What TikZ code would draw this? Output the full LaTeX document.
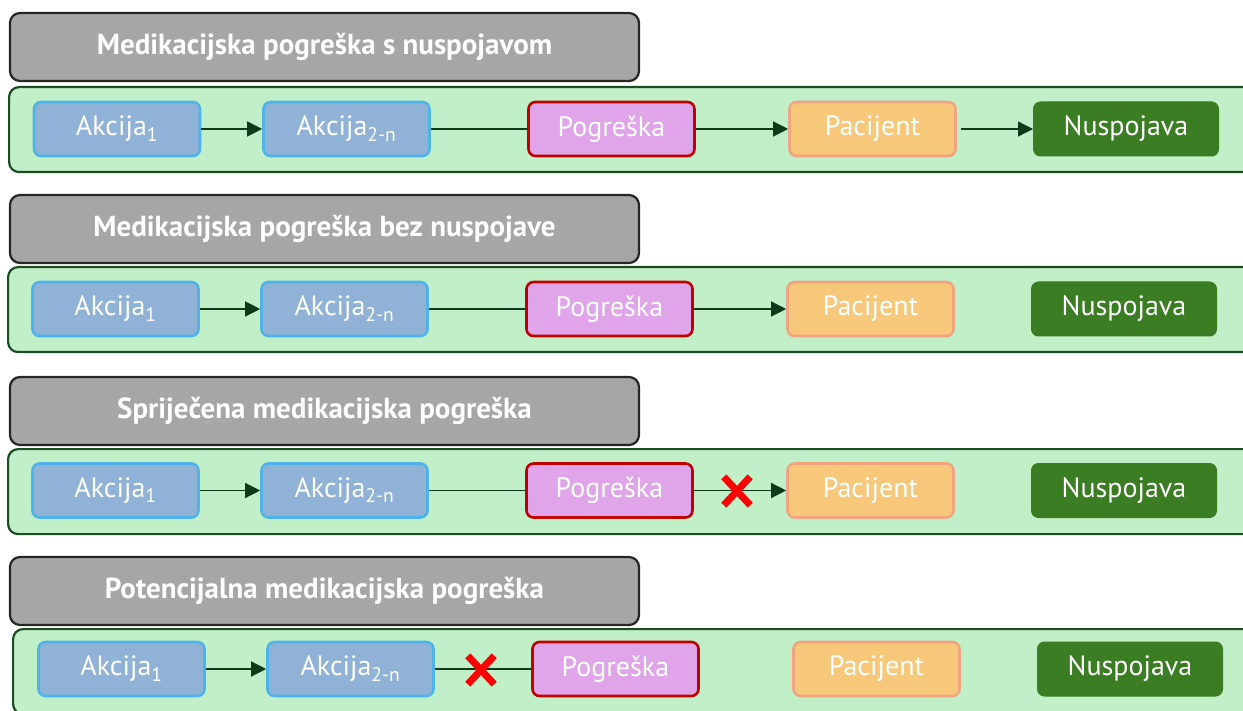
\documentclass[tikz,border=0pt]{standalone}
\usepackage{fontspec}
\setmainfont{PT Sans}
\usetikzlibrary{arrows.meta}
\definecolor{titlegray}{HTML}{A6A6A6}
\definecolor{titleedge}{HTML}{262626}
\definecolor{panelfill}{HTML}{C1F0C8}
\definecolor{paneledge}{HTML}{1B4D23}
\definecolor{akfill}{HTML}{8FB2D6}
\definecolor{akedge}{HTML}{4EB3E8}
\definecolor{pgfill}{HTML}{E0A5E9}
\definecolor{pgedge}{HTML}{C00000}
\definecolor{pcfill}{HTML}{F8C87A}
\definecolor{pcedge}{HTML}{F2A382}
\definecolor{nsfill}{HTML}{3B7D23}
\definecolor{arrcol}{HTML}{0E3A17}
\definecolor{xred}{HTML}{FF0000}
\begin{document}
\begin{tikzpicture}[x=1pt,y=-1pt,
  titlebox/.style={draw=titleedge,line width=2.2pt,fill=titlegray,rounded corners=10pt,
    minimum width=629pt,minimum height=68pt,inner sep=0pt,text=white,
    font=\fontsize{29}{33}\selectfont\bfseries},
  panel/.style={draw=paneledge,line width=2.2pt,fill=panelfill,rounded corners=10pt,
    minimum height=85pt,inner sep=0pt},
  stepbase/.style={rounded corners=7pt,minimum height=54pt,inner sep=0pt,text=white,
    font=\fontsize{28}{32}\selectfont},
  akc/.style={stepbase,draw=akedge,fill=akfill,line width=2.6pt,minimum width=166pt},
  pog/.style={stepbase,draw=pgedge,fill=pgfill,line width=2.6pt,minimum width=166pt},
  pac/.style={stepbase,draw=pcedge,fill=pcfill,line width=2.6pt,minimum width=166pt},
  nus/.style={stepbase,draw=nsfill,fill=nsfill,line width=1pt,minimum width=185pt},
  arr/.style={draw=arrcol,line width=1.3pt,-{Triangle[length=15pt,width=15pt]}},
  plain/.style={draw=arrcol,line width=1.3pt},
  xmark/.style={minimum width=26pt,minimum height=28pt,inner sep=0pt},
  xline/.style={draw=xred,line width=7pt}
]
\useasboundingbox (0,0) rectangle (1243,711);
\clip (0,0) rectangle (1243,711);

% ---------- Row 1 ----------
\node[panel,minimum width=1246pt,anchor=north west] (p1) at (8,86) {};
\node[titlebox] (t1) at (324.5,47) {Medikacijska pogreška s nuspojavom};
\node[akc] (a11) at (117,129) {Akcija\textsubscript{1}};
\node[akc] (a12) at (346.5,129) {Akcija\textsubscript{2-n}};
\node[pog] (g1) at (611.5,129) {Pogreška};
\node[pac] (c1) at (872.5,129) {Pacijent};
\node[nus] (n1) at (1126,129) {Nuspojava};
\draw[arr] (a11) -- (a12);
\draw[plain] (a12) -- (g1);
\draw[arr] (g1) -- (c1);
\draw[arr] ([xshift=4pt]c1.east) -- (n1);

% ---------- Row 2 ----------
\node[panel,minimum width=1248pt,anchor=north west] (p2) at (7,266) {};
\node[titlebox] (t2) at (324.5,229) {Medikacijska pogreška bez nuspojave};
\node[akc] (a21) at (115.5,309) {Akcija\textsubscript{1}};
\node[akc] (a22) at (344.5,309) {Akcija\textsubscript{2-n}};
\node[pog] (g2) at (609.5,309) {Pogreška};
\node[pac] (c2) at (870.5,309) {Pacijent};
\node[nus] (n2) at (1124,309) {Nuspojava};
\draw[arr] (a21) -- (a22);
\draw[plain] (a22) -- (g2);
\draw[arr] (g2) -- (c2);

% ---------- Row 3 ----------
\node[panel,minimum width=1248pt,anchor=north west] (p3) at (7,448) {};
\node[titlebox] (t3) at (324.5,411) {Spriječena medikacijska pogreška};
\node[akc] (a31) at (115.5,490.5) {Akcija\textsubscript{1}};
\node[akc] (a32) at (344.5,490.5) {Akcija\textsubscript{2-n}};
\node[pog] (g3) at (609.5,490.5) {Pogreška};
\node[pac] (c3) at (870.5,490.5) {Pacijent};
\node[nus] (n3) at (1124,490.5) {Nuspojava};
\draw[arr] (a31) -- (a32);
\draw[plain] (a32) -- (g3);
\draw[arr] (g3) -- (c3);
\node[xmark] (x3) at (737,491) {};
\draw[xline] (x3.north west) -- (x3.south east);
\draw[xline] (x3.north east) -- (x3.south west);

% ---------- Row 4 ----------
\node[panel,minimum width=1244pt,anchor=north west] (p4) at (12,628) {};
\node[titlebox] (t4) at (324.5,591) {Potencijalna medikacijska pogreška};
\node[akc] (a41) at (121.5,669) {Akcija\textsubscript{1}};
\node[akc] (a42) at (350.5,669) {Akcija\textsubscript{2-n}};
\node[pog] (g4) at (615.5,669) {Pogreška};
\node[pac] (c4) at (876.5,669) {Pacijent};
\node[nus] (n4) at (1130,669) {Nuspojava};
\draw[arr] (a41) -- (a42);
\draw[plain] (a42) -- (g4);
\node[xmark] (x4) at (481,670) {};
\draw[xline] (x4.north west) -- (x4.south east);
\draw[xline] (x4.north east) -- (x4.south west);
\end{tikzpicture}
\end{document}
